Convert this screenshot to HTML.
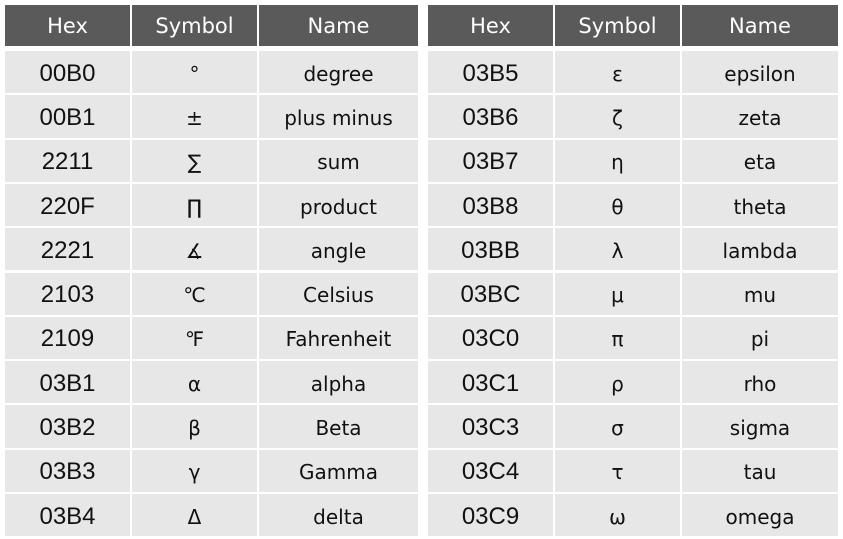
<!DOCTYPE html>
<html><head><style>
body{margin:0;width:843px;height:539px;background:#fff;position:relative;overflow:hidden;font-family:"Liberation Sans","DejaVu Sans",sans-serif}
.c{position:absolute;background:#e7e7e7;display:flex;align-items:center;justify-content:center;color:#111;box-sizing:border-box;padding-top:3px}
.h{background:#5a5a5a;color:#fff;font-size:21px;font-family:"DejaVu Sans","Liberation Sans",sans-serif;padding-top:1px}
.x{font-size:24px}
.s{font-size:20px;font-family:"DejaVu Sans",serif}
.n{font-size:20px;font-family:"DejaVu Sans","Liberation Sans",sans-serif}
</style></head><body>
<div id="t"></div>
<script>
var L=[["00B0","°","degree"],["00B1","±","plus minus"],["2211","∑","sum"],["220F","∏","product"],["2221","∡","angle"],["2103","℃","Celsius"],["2109","℉","Fahrenheit"],["03B1","α","alpha"],["03B2","β","Beta"],["03B3","γ","Gamma"],["03B4","Δ","delta"]];
var R=[["03B5","ε","epsilon"],["03B6","ζ","zeta"],["03B7","η","eta"],["03B8","θ","theta"],["03BB","λ","lambda"],["03BC","μ","mu"],["03C0","π","pi"],["03C1","ρ","rho"],["03C3","σ","sigma"],["03C4","τ","tau"],["03C9","ω","omega"]];
var h="";
function tab(cols,data){
 var hd=["Hex","Symbol","Name"];
 for(var i=0;i<3;i++)h+='<div class="c h" style="left:'+cols[i][0]+'px;width:'+cols[i][1]+'px;top:5px;height:41px">'+hd[i]+'</div>';
 for(var r=0;r<11;r++){var y=51+r*44.3;
  var cl=["x","s","n"];
  for(var i=0;i<3;i++)h+='<div class="c '+cl[i]+'" style="left:'+cols[i][0]+'px;width:'+cols[i][1]+'px;top:'+y+'px;height:42.3px">'+data[r][i]+'</div>';}
}
tab([[5,125],[132,125],[259,159]],L);
tab([[428,125],[555,125],[682,156]],R);
document.getElementById("t").innerHTML=h;
</script>
</body></html>
